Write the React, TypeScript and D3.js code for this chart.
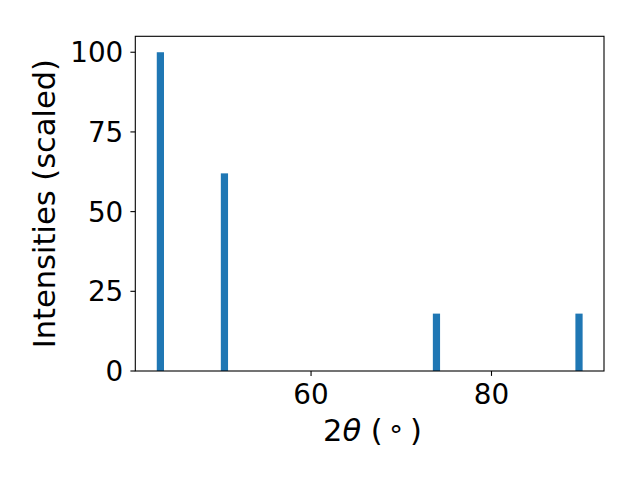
import React from "react";
import * as d3 from "d3";

const peaks2Theta = [43.3, 50.4, 73.9, 89.7];
const intensities = [100, 62, 18, 18];
const xTicks = [60, 80];
const yTicks = [0, 25, 50, 75, 100];
const barWidth = 0.8;

const W = 640;
const H = 480;
const M = { left: 135.3, right: 604, top: 36.3, bottom: 371 };
const FONT = "DejaVu Sans, sans-serif";
const TICK_FS = 27.8;
const LABEL_FS = 30.5;

export default function App() {
  const xs = d3.scaleLinear().domain([40.52, 92.47]).range([M.left, M.right]);
  const ys = d3.scaleLinear().domain([0, 105]).range([M.bottom, M.top]);
  return (
    <svg width={W} height={H} style={{ position: "absolute", left: 0, top: 0 }}>
      <rect x={0} y={0} width={W} height={H} fill="#fff" />
      {peaks2Theta.map((p, i) => (
        <rect
          key={i}
          x={xs(p - barWidth / 2)}
          y={ys(intensities[i])}
          width={xs(p + barWidth / 2) - xs(p - barWidth / 2)}
          height={ys(0) - ys(intensities[i])}
          fill="#1f77b4"
        />
      ))}
      <rect
        x={M.left}
        y={M.top}
        width={M.right - M.left}
        height={M.bottom - M.top}
        fill="none"
        stroke="#000"
        strokeWidth={1.1}
      />
      {xTicks.map((t) => (
        <g key={t}>
          <line x1={xs(t)} x2={xs(t)} y1={M.bottom} y2={M.bottom + 4.9} stroke="#000" strokeWidth={1.1} />
          <text x={xs(t)} y={M.bottom + 33} textAnchor="middle" fontFamily={FONT} fontSize={TICK_FS} fill="#000">
            {t}
          </text>
        </g>
      ))}
      {yTicks.map((t) => (
        <g key={t}>
          <line x1={M.left - 4.9} x2={M.left} y1={ys(t)} y2={ys(t)} stroke="#000" strokeWidth={1.1} />
          <text x={M.left - 12} y={ys(t)} dy="0.36em" textAnchor="end" fontFamily={FONT} fontSize={TICK_FS} fill="#000">
            {t}
          </text>
        </g>
      ))}
      <text x={323} y={441} fontFamily={FONT} fontSize={LABEL_FS} fill="#000">
        <tspan>2</tspan>
        <tspan fontStyle="italic">θ</tspan>
        <tspan> (</tspan>
      </text>
      <text x={396} y={445} textAnchor="middle" fontFamily={FONT} fontSize={LABEL_FS * 0.9} fill="#000">
        °
      </text>
      <text x={410} y={441} fontFamily={FONT} fontSize={LABEL_FS} fill="#000">
        )
      </text>
      <text
        transform={`translate(55, ${(M.top + M.bottom) / 2}) rotate(-90)`}
        textAnchor="middle"
        fontFamily={FONT}
        fontSize={LABEL_FS}
        fill="#000"
      >
        Intensities (scaled)
      </text>
    </svg>
  );
}
